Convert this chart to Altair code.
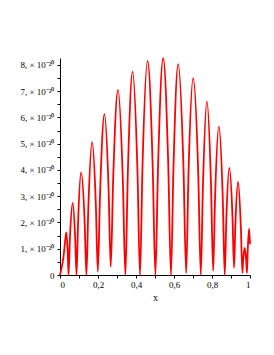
import altair as alt
import pandas as pd

# x positions and values (in units of 1e-20)
xs = [0.0, 0.018, 0.028, 0.033, 0.041,
      0.045, 0.052, 0.067, 0.080,
      0.087, 0.095, 0.111, 0.130,
      0.139, 0.149, 0.169, 0.189,
      0.199, 0.211, 0.234, 0.256,
      0.267, 0.280, 0.305, 0.331,
      0.344, 0.357, 0.382, 0.408,
      0.421, 0.434, 0.461, 0.488,
      0.502, 0.516, 0.543, 0.570,
      0.584, 0.597, 0.622, 0.650,
      0.664, 0.676, 0.701, 0.728,
      0.741, 0.752, 0.773, 0.795,
      0.806, 0.816, 0.836, 0.857,
      0.867, 0.875, 0.891, 0.908,
      0.916, 0.923, 0.937, 0.952,
      0.960, 0.964, 0.972, 0.980,
      0.984, 0.988, 0.995, 1.0]
vs = [0.0, 0.67, 1.35, 1.62, 0.81,
      0.0, 1.37, 2.74, 1.37,
      0.0, 1.96, 3.91, 1.96,
      0.0, 2.53, 5.06, 2.60,
      0.13, 3.12, 6.12, 3.20,
      0.31, 3.68, 7.05, 3.53,
      0.0, 3.87, 7.74, 3.87,
      0.0, 4.08, 8.15, 4.08,
      0.0, 4.13, 8.25, 4.13,
      0.0, 4.02, 8.03, 4.05,
      0.07, 3.78, 7.49, 3.75,
      0.0, 3.30, 6.60, 3.38,
      0.16, 2.90, 5.65, 2.83,
      0.0, 2.04, 4.08, 2.17,
      0.27, 1.91, 3.55, 1.80,
      0.08, 0.55, 1.03, 0.55,
      0.08, 0.92, 1.76, 1.17]

x_ticks = [0.0, 0.1, 0.2, 0.3, 0.4, 0.5, 0.6, 0.7, 0.8, 0.9, 1.0]
y_ticks = [0, 0.5, 1, 1.5, 2, 2.5, 3, 3.5, 4, 4.5, 5, 5.5, 6, 6.5, 7, 7.5, 8]

df = pd.DataFrame({"x": xs, "v": vs})

font = "Liberation Serif"

chart = alt.Chart(df).mark_line(
    color="#ff0000", strokeWidth=1.8, interpolate="monotone"
).encode(
    x=alt.X("x:Q", scale=alt.Scale(domain=[0, 1], nice=False, zero=False),
            axis=alt.Axis(values=x_ticks, title="x", grid=False,
                          labelExpr="(round(datum.value*10) % 2 == 0) ? replace(format(datum.value, '.1~f'), '.', ',') : ''",
                          tickSize=3, labelPadding=2, titlePadding=3)),
    y=alt.Y("v:Q", scale=alt.Scale(domain=[0, 8.26], nice=False),
            axis=alt.Axis(values=y_ticks, title=None, grid=False,
                          labelExpr="datum.value == 0 ? '0' : (datum.value % 1 == 0 ? format(datum.value, 'd') + ', \u00d7 10\u207b\u00b2\u2070' : '')",
                          tickSize=3, labelPadding=3)),
).properties(
    width=190, height=217,
    autosize=alt.AutoSizeParams(type="none"),
    padding={"left": 52, "top": 50, "right": 16, "bottom": 60},
).configure_view(stroke=None).configure_axis(
    domainColor="black", tickColor="black", labelColor="black", titleColor="black",
    labelFont=font, titleFont=font, labelFontSize=9, titleFontSize=10,
    titleFontWeight="normal", domainWidth=1, tickWidth=1,
)

chart.save("out.html", embed_options={"renderer": "svg", "actions": False})
